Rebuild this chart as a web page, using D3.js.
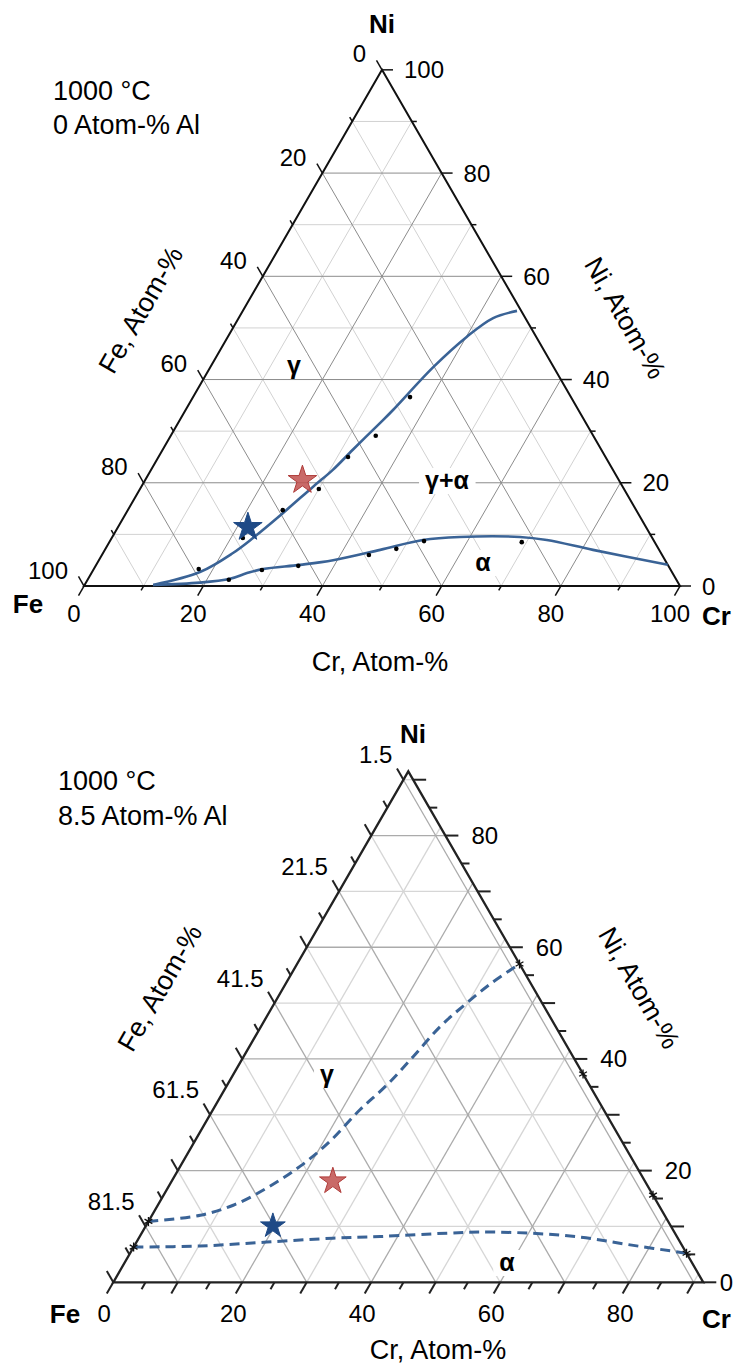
<!DOCTYPE html>
<html lang="en">
<head>
<meta charset="UTF-8">
<title>Fe-Ni-Cr at 1000 °C</title>
<script src="https://d3js.org/d3.v7.min.js"></script>
<style>
  body { margin: 0; background: #fff; }
  svg text { font-family: "Liberation Sans", Arial, sans-serif; fill: #000; }
</style>
</head>
<body>
<svg id="chart" width="734" height="1365"></svg>
<script>
// points are [Cr, Ni] in atom-%, Fe is whatever is left

// ---- upper diagram: 0 at.% Al (sum 100) ----
const gammaLine0 = [[11.5, 0.2], [18.1, 2.7], [21.8, 6.4], [23.7, 9.3], [26.3, 14.1], [28.8, 19.2],
  [30.5, 22.5], [31.9, 26.4], [33.9, 31.6], [34.8, 34.1], [37.4, 42.4], [40.1, 48.3], [42.7, 51.9], [46.0, 53.3]];
const alphaLine0 = [[11.5, 0.2], [19.1, 0.65], [23.8, 1.4], [26.1, 2.5], [28.4, 3.3], [34.2, 4.1], [39.3, 5.0],
  [46.2, 7.0], [52.4, 8.9], [58.3, 9.5], [68.4, 9.5], [73.2, 8.9], [81.9, 7.0], [95.9, 4.1]];
const measured0 = [[17.6, 3.3], [23.7, 1.2], [28.3, 3.1], [34.0, 3.9], [44.8, 6.0], [48.8, 7.2], [52.7, 8.7],
  [69.2, 8.5], [22.0, 9.3], [26.0, 14.7], [30.0, 18.8], [31.8, 25.0], [34.4, 29.1], [36.4, 36.6]];
const blueStar0 = [21.8, 11.4];
const redStar0 = [26.4, 20.5];

const grid0 = [10, 20, 30, 40, 50, 60, 70, 80, 90];
const ticks0 = [0, 10, 20, 30, 40, 50, 60, 70, 80, 90, 100];
const labels0 = [0, 20, 40, 60, 80, 100];

// ---- lower diagram: 8.5 at.% Al (sum 91.5) ----
const gammaLine85 = [[0, 10.9], [7.5, 12.0], [11.7, 13.8], [15.4, 16.9], [18.6, 20.8], [21.0, 25.3], [22.8, 30.9],
  [24.75, 35.3], [26.3, 40.4], [27.8, 45.8], [29.8, 50.0], [32.0, 53.8], [34.5, 57.0]];
const alphaLine85 = [[0, 6.3], [10.2, 6.5], [20.2, 7.2], [30.1, 7.9], [37.3, 8.2], [47.4, 8.8], [52.4, 9.0],
  [60.2, 8.8], [68.3, 8.1], [76.8, 6.7], [86.3, 5.2]];
const edgeMarks85 = [[0, 10.9], [0, 6.3], [34.5, 57.0], [54.2, 37.3], [75.9, 15.6], [86.3, 5.2]];
const blueStar85 = [19.7, 10.1];
const redStar85 = [25.0, 18.1];

const gridCrNi85 = [10, 20, 30, 40, 50, 60, 70, 80, 90];
const gridFe85 = [1.5, 11.5, 21.5, 31.5, 41.5, 51.5, 61.5, 71.5, 81.5];
const ticksCrNi85 = [0, 5, 10, 15, 20, 25, 30, 35, 40, 45, 50, 55, 60, 65, 70, 75, 80, 85, 90];
const ticksFe85 = [1.5, 6.5, 11.5, 16.5, 21.5, 26.5, 31.5, 36.5, 41.5, 46.5, 51.5, 56.5, 61.5, 66.5, 71.5,
  76.5, 81.5, 86.5, 91.5];
const labelsCrNi85 = [0, 20, 40, 60, 80];
const labelsFe85 = [1.5, 21.5, 41.5, 61.5, 81.5];

const lineColor = "#3a6396";
const W = 734;
const svg = d3.select("#chart");

const diagrams = [
  {
    total: 100, left: 84, base: 586, side: 596,
    gridCr: grid0, gridNi: grid0, gridFe: grid0,
    ticksCr: ticks0, ticksNi: ticks0, ticksFe: ticks0,
    labCr: labels0, labNi: labels0, labFe: labels0,
    feStart: 0, longStep: 20, tickLen: [11, 5], tickWidth: 1.5,
    gridMajor: "#8c8c8c", gridMinor: "#d2d2d2", gridWidth: 1,
    edgeColor: "#111", edgeWidth: 2,
    crLab: [-10, 36], niLab: [22, 8.5], feLab: [-16, -7.5],
    info: [["1000 °C", 53, 100], ["0 Atom-% Al", 53, 134]],
    vertices: [["Ni", 382, 33, "middle"], ["Fe", 28, 613, "middle"], ["Cr", 702, 625, "start"]],
    titles: [["Cr, Atom-%", 380, 662, 0], ["Fe, Atom-%", 141, 310, -60], ["Ni, Atom-%", 625, 318, 60]],
    regions: [["γ", 294, 374], ["γ+α", 447, 489], ["α", 483, 571]],
    lines: [gammaLine0, alphaLine0], dashed: false,
    dots: measured0, marks: [],
    stars: [[blueStar0, "#1f4a86", 15], [redStar0, "#c0504d", 15]]
  },
  {
    total: 91.5, left: 113.3, base: 1282.3, side: 590,
    gridCr: gridCrNi85, gridNi: gridCrNi85, gridFe: gridFe85,
    ticksCr: ticksCrNi85, ticksNi: ticksCrNi85, ticksFe: ticksFe85,
    labCr: labelsCrNi85, labNi: labelsCrNi85, labFe: labelsFe85,
    feStart: 1.5, longStep: 10, tickLen: [13, 8], tickWidth: 2,
    gridMajor: "#ababab", gridMinor: "#d6d6d6", gridWidth: 1.3,
    edgeColor: "#222", edgeWidth: 2.3,
    crLab: [-9, 40], niLab: [26, 8.5], feLab: [-11, -16.5],
    info: [["1000 °C", 58, 790], ["8.5 Atom-% Al", 58, 825]],
    vertices: [["Ni", 413, 743, "middle"], ["Fe", 65, 1323, "middle"], ["Cr", 702, 1328, "start"]],
    titles: [["Cr, Atom-%", 438, 1350, 0], ["Fe, Atom-%", 160, 988, -60], ["Ni, Atom-%", 639, 988, 60]],
    regions: [["γ", 327, 1083], ["α", 507, 1271]],
    lines: [gammaLine85, alphaLine85], dashed: true,
    dots: [], marks: edgeMarks85,
    stars: [[blueStar85, "#1f4a86", 13], [redStar85, "#c0504d", 14]]
  }
];

diagrams.forEach(drawTernary);

function drawTernary(cfg) {
  const g = svg.append("g");
  const T = cfg.total;
  const xs = d3.scaleLinear().domain([0, T]).range([cfg.left, cfg.left + cfg.side]);
  const ys = d3.scaleLinear().domain([0, T]).range([cfg.base, cfg.base - cfg.side * Math.sqrt(3) / 2]);
  const pt = d => [xs(d[0] + d[1] / 2), ys(d[1])];

  // grid lines, light ones first
  const segs = [];
  cfg.gridNi.forEach(v => segs.push({ a: [0, v], b: [T - v, v], major: cfg.labNi.includes(v) }));
  cfg.gridCr.forEach(v => segs.push({ a: [v, 0], b: [v, T - v], major: cfg.labCr.includes(v) }));
  cfg.gridFe.forEach(v => segs.push({ a: [0, T - v], b: [T - v, 0], major: cfg.labFe.includes(v) }));
  segs.sort((p, q) => p.major - q.major);
  g.append("g").selectAll("line").data(segs).join("line")
    .attr("x1", d => pt(d.a)[0]).attr("y1", d => pt(d.a)[1])
    .attr("x2", d => pt(d.b)[0]).attr("y2", d => pt(d.b)[1])
    .attr("stroke", d => d.major ? cfg.gridMajor : cfg.gridMinor)
    .attr("stroke-width", cfg.gridWidth);

  // region labels with a white patch behind
  cfg.regions.forEach(r => {
    const t = g.append("text")
      .attr("x", r[1]).attr("y", r[2])
      .attr("text-anchor", "middle")
      .attr("font-size", 25).attr("font-weight", "bold")
      .text(r[0]);
    const bb = t.node().getBBox();
    g.insert("rect", () => t.node())
      .attr("x", bb.x - 6).attr("y", bb.y + 2)
      .attr("width", bb.width + 12).attr("height", bb.height - 2)
      .attr("fill", "#fff");
  });

  // triangle
  const corners = [[0, 0], [T, 0], [0, T]].map(pt);
  g.append("path")
    .attr("d", d3.line()(corners) + "Z")
    .attr("fill", "none")
    .attr("stroke", cfg.edgeColor)
    .attr("stroke-width", cfg.edgeWidth)
    .attr("stroke-linejoin", "miter");

  // axes: ticks + labels
  const axes = [
    { ticks: cfg.ticksCr, labels: cfg.labCr, at: v => [v, 0], dir: [-0.5, 0.866], start: 0, off: cfg.crLab, anchor: "middle" },
    { ticks: cfg.ticksNi, labels: cfg.labNi, at: v => [T - v, v], dir: [1, 0], start: 0, off: cfg.niLab, anchor: "start" },
    { ticks: cfg.ticksFe, labels: cfg.labFe, at: v => [0, T - v], dir: [-0.5, -0.866], start: cfg.feStart, off: cfg.feLab, anchor: "end" }
  ];
  axes.forEach(ax => {
    const isLong = v => {
      const k = (v - ax.start) / cfg.longStep;
      return Math.abs(k - Math.round(k)) < 1e-6;
    };
    g.append("g").selectAll("line").data(ax.ticks).join("line")
      .attr("x1", v => pt(ax.at(v))[0])
      .attr("y1", v => pt(ax.at(v))[1])
      .attr("x2", v => pt(ax.at(v))[0] + ax.dir[0] * (isLong(v) ? cfg.tickLen[0] : cfg.tickLen[1]))
      .attr("y2", v => pt(ax.at(v))[1] + ax.dir[1] * (isLong(v) ? cfg.tickLen[0] : cfg.tickLen[1]))
      .attr("stroke", cfg.edgeColor)
      .attr("stroke-width", cfg.tickWidth);
    g.append("g").selectAll("text").data(ax.labels).join("text")
      .attr("x", v => pt(ax.at(v))[0] + ax.off[0])
      .attr("y", v => pt(ax.at(v))[1] + ax.off[1])
      .attr("text-anchor", ax.anchor)
      .attr("font-size", 24)
      .text(v => String(v))
      .each(function () {
        // keep labels inside the page
        const bb = this.getBBox();
        if (bb.x + bb.width > W - 1) d3.select(this).attr("x", +this.getAttribute("x") - (bb.x + bb.width - W + 1));
      });
  });

  // phase boundaries
  const line = d3.line().x(d => pt(d)[0]).y(d => pt(d)[1]).curve(d3.curveCatmullRom.alpha(0.5));
  g.append("g").selectAll("path").data(cfg.lines).join("path")
    .attr("d", line)
    .attr("fill", "none")
    .attr("stroke", lineColor)
    .attr("stroke-width", cfg.dashed ? 3 : 2.6)
    .attr("stroke-dasharray", cfg.dashed ? "10,6" : null);

  // measured compositions
  g.append("g").selectAll("circle").data(cfg.dots).join("circle")
    .attr("cx", d => pt(d)[0]).attr("cy", d => pt(d)[1])
    .attr("r", 2.3).attr("fill", "#000");

  // asterisks where the dashed lines meet the edges
  const ast = "M0,-4.5L0,4.5M-3.9,-2.25L3.9,2.25M-3.9,2.25L3.9,-2.25";
  g.append("g").selectAll("path").data(cfg.marks).join("path")
    .attr("transform", d => `translate(${pt(d)[0]},${pt(d)[1]})`)
    .attr("d", ast)
    .attr("stroke", "#111").attr("stroke-width", 1.3);

  // alloy stars
  g.append("g").selectAll("path").data(cfg.stars).join("path")
    .attr("transform", d => `translate(${pt(d[0])[0]},${pt(d[0])[1]})`)
    .attr("d", d => d3.symbol(d3.symbolStar, d[2] * d[2] / 0.8908)())
    .attr("fill", d => d[1])
    .attr("fill-opacity", d => d[1] === "#c0504d" ? 0.85 : 1)
    .attr("stroke", d => d[1] === "#c0504d" ? "#b03c3a" : d[1])
    .attr("stroke-width", 1);

  // texts
  g.append("g").selectAll("text").data(cfg.info).join("text")
    .attr("x", d => d[1]).attr("y", d => d[2])
    .attr("font-size", 27)
    .text(d => d[0]);

  g.append("g").selectAll("text").data(cfg.vertices).join("text")
    .attr("x", d => d[1]).attr("y", d => d[2])
    .attr("text-anchor", d => d[3])
    .attr("font-size", 26).attr("font-weight", "bold")
    .text(d => d[0]);

  g.append("g").selectAll("text").data(cfg.titles).join("text")
    .attr("transform", d => `translate(${d[1]},${d[2]}) rotate(${d[3]})`)
    .attr("text-anchor", "middle")
    .attr("dominant-baseline", "central")
    .attr("font-size", 27)
    .text(d => d[0]);
}
</script>
</body>
</html>
